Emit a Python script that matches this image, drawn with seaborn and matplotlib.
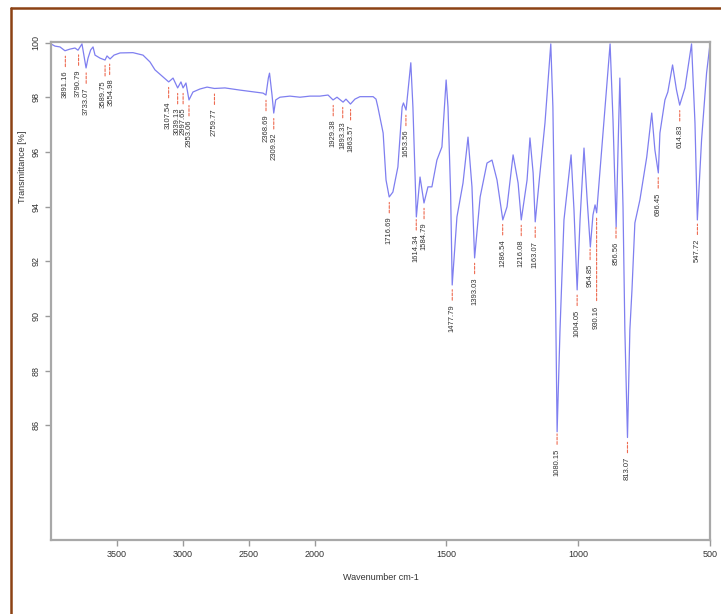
import numpy as np
import pandas as pd
import matplotlib
matplotlib.use('Agg')
import matplotlib.pyplot as plt
import seaborn as sns

# Spectrum (wavenumber cm-1, transmittance %)
wavenumber = [4000, 3970, 3932, 3894, 3856, 3818, 3795, 3765, 3734, 3719, 3699, 3681, 3666, 3628,
              3590, 3575, 3552, 3522, 3476, 3378, 3302, 3249, 3211, 3150, 3107, 3074, 3039, 3014,
              2998, 2976, 2953, 2923, 2870, 2816, 2760, 2680, 2566, 2452, 2391, 2369, 2351, 2342,
              2323, 2310, 2295, 2263, 2187, 2111, 2035,
              1980, 1949, 1930, 1915, 1892, 1881, 1864, 1847, 1828, 1778, 1767, 1760, 1740, 1729,
              1717, 1703, 1684, 1668, 1663, 1653, 1635, 1627, 1614, 1600, 1585, 1570, 1555, 1536,
              1517, 1501, 1494, 1484, 1478, 1460, 1437, 1418, 1403, 1393, 1372, 1346, 1327, 1308,
              1286, 1270, 1247, 1228, 1216, 1194, 1183, 1171, 1163, 1145, 1126, 1104, 1096, 1088,
              1080, 1069, 1054, 1027, 1016, 1004, 993, 978, 966, 954, 944, 936, 930, 917, 898, 879,
              868, 856, 849, 842, 830, 823, 813, 804, 796, 785, 766, 740, 721, 709, 696, 690, 671,
              660, 642, 627, 615, 595, 570, 557, 548, 532, 513, 500]
transmittance = [99.95, 99.87, 99.84, 99.70, 99.76, 99.80, 99.72, 99.95, 99.07, 99.43, 99.73, 99.84, 99.54, 99.43,
                 99.36, 99.51, 99.40, 99.54, 99.62, 99.63, 99.54, 99.29, 99.00, 98.74, 98.56, 98.70, 98.34, 98.56,
                 98.34, 98.52, 97.90, 98.19, 98.30, 98.37, 98.32, 98.34, 98.26, 98.19, 98.15, 98.08, 98.70, 98.88,
                 98.08, 97.42, 97.90, 98.00, 98.04, 98.00, 98.04,
                 98.04, 98.08, 97.90, 98.00, 97.82, 97.93, 97.75, 97.93, 98.02, 98.02, 97.93, 97.64, 96.69, 94.97,
                 94.35, 94.53, 95.45, 97.64, 97.79, 97.53, 99.26, 97.64, 93.62, 95.08, 94.13, 94.72, 94.72, 95.70,
                 96.18, 98.63, 97.64, 94.50, 91.13, 93.62, 94.86, 96.54, 94.72, 92.12, 94.35, 95.59, 95.70, 94.97,
                 93.51, 93.99, 95.89, 94.86, 93.51, 94.97, 96.51, 95.23, 93.44, 95.23, 97.06, 99.95, 97.64, 92.41,
                 85.76, 89.49, 93.51, 95.89, 93.88, 90.95, 93.51, 96.14, 94.24, 92.52, 93.69, 94.06, 93.77, 95.34, 97.64, 99.95,
                 97.17, 93.25, 96.07, 98.70, 93.99, 89.49, 85.55, 89.49, 90.95, 93.40, 94.24, 95.81, 97.42, 96.07, 95.23, 96.69, 97.90,
                 98.19, 99.18, 98.26, 97.71, 98.34, 99.95, 97.06, 93.51, 96.44, 98.88, 99.95]

# Peak labels
peak_wn = [3891.16, 3790.79, 3733.07, 3589.75, 3554.98, 3107.54, 3039.13, 2997.65, 2953.06,
           2759.77, 2368.69, 2309.92, 1929.38, 1893.33, 1863.57, 1716.69, 1653.56, 1614.34,
           1584.79, 1477.79, 1393.03, 1286.54, 1216.08, 1163.07, 1080.15, 1004.05, 954.85,
           930.16, 856.56, 813.07, 696.45, 614.83, 547.72]
peak_text = ['%.2f' % p for p in peak_wn]

y_ticks = [86, 88, 90, 92, 94, 96, 98, 100]
x_ticks = [3500, 3000, 2500, 2000, 1500, 1000, 500]

spec = pd.DataFrame({'Wavenumber': wavenumber, 'Transmittance': transmittance})

sns.set_style('white')
plt.rcParams['font.family'] = ['Liberation Sans', 'DejaVu Sans']

fig = plt.figure(figsize=(7.21, 6.14), dpi=100)
ax = fig.add_axes([51 / 721, 1 - 540 / 614, 659 / 721, 498 / 614])

sns.lineplot(data=spec, x='Wavenumber', y='Transmittance', estimator=None, sort=False,
             color='#7f7ff0', linewidth=0.9, ax=ax)

# scale is doubled below 2000 cm-1, as on the instrument printout
def fwd(x):
    x = np.asarray(x, dtype=float)
    return np.where(x > 2000, 2000 + (x - 2000) / 2, x)

def inv(x):
    x = np.asarray(x, dtype=float)
    return np.where(x > 2000, 2000 + (x - 2000) * 2, x)

ax.set_xscale('function', functions=(fwd, inv))
ax.set_xlim(4000, 500)
ax.set_ylim(81.8, 100.02)
ax.set_xticks(x_ticks)
ax.set_xticklabels([str(t) for t in x_ticks])
ax.set_yticks(y_ticks)
ax.set_yticklabels([str(t) for t in y_ticks], rotation=90, va='center')
ax.tick_params(axis='both', length=4, width=1, color='#9a9a9a', labelsize=6.5,
               labelcolor='#333333', direction='out', left=True, bottom=True)
ax.minorticks_off()

for s in ax.spines.values():
    s.set_color('#a8a8a8')
    s.set_linewidth(1.6)

ax.set_xlabel('Wavenumber cm-1', fontsize=6.5, color='#333333', labelpad=10)
ax.set_ylabel('Transmittance [%]', fontsize=6.5, color='#333333')
ax.yaxis.set_label_coords(-0.037, 0.75)

# peak markers: short red dashes and rotated labels
wn_rev = np.array(wavenumber[::-1], dtype=float)
t_rev = np.array(transmittance[::-1], dtype=float)
nudge = {'3589.75': -2, '3554.98': 2}
for p, txt in zip(peak_wn, peak_text):
    tp = np.interp(p, wn_rev, t_rev)
    tick_end, text_top = 16, 20
    if txt == '930.16':
        tick_end, text_top = 88, 93
    ax.annotate('', xy=(p, tp), xytext=(0, -tick_end), textcoords='offset pixels',
                arrowprops=dict(arrowstyle='-', color='#ee6a50', lw=0.8,
                                linestyle=(0, (2.5, 1.5)), shrinkA=0, shrinkB=4))
    ax.annotate(txt, xy=(p, tp), xytext=(nudge.get(txt, 0), -text_top), textcoords='offset pixels',
                rotation=90, ha='center', va='top', fontsize=5.5, color='#333333')

# brown frame of the original picture (left and top edges)
fig.add_artist(plt.Line2D([11 / 721, 11 / 721], [0, 1 - 8 / 614], color='#8c4214', lw=1.8))
fig.add_artist(plt.Line2D([11 / 721, 1], [1 - 8 / 614, 1 - 8 / 614], color='#8c4214', lw=1.8))

fig.savefig('out.png', dpi=100)
